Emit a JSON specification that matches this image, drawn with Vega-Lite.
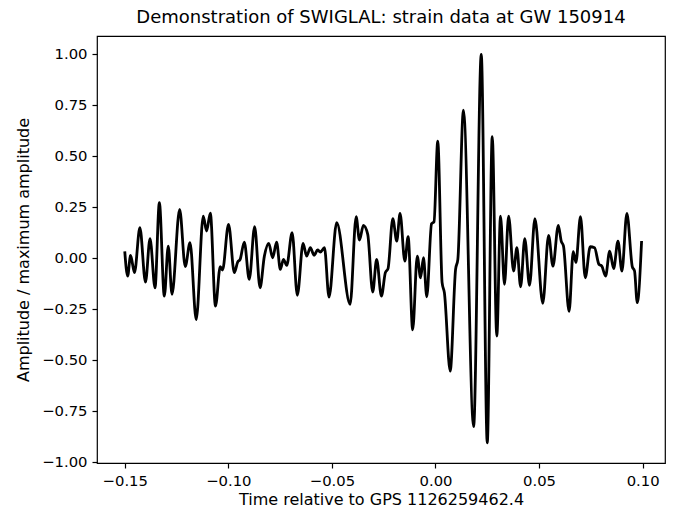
{
  "$schema": "https://vega.github.io/schema/vega-lite/v6.json",
  "width": 568,
  "height": 427,
  "autosize": {"type": "none"},
  "padding": {"left": 97, "top": 36, "right": 9, "bottom": 48},
  "background": "white",
  "title": {
    "text": "Demonstration of SWIGLAL: strain data at GW 150914",
    "font": "DejaVu Sans",
    "fontSize": 18,
    "fontWeight": "normal",
    "color": "black",
    "anchor": "middle",
    "frame": "group",
    "offset": 9
  },
  "config": {
    "view": {"stroke": "black", "strokeWidth": 1.2},
    "axis": {
      "grid": false,
      "domain": false,
      "tickColor": "black",
      "tickSize": 5,
      "tickWidth": 1.2,
      "labelFont": "DejaVu Sans",
      "labelFontSize": 14.8,
      "labelColor": "black",
      "labelPadding": 5,
      "titleFont": "DejaVu Sans",
      "titleFontSize": 16,
      "titleFontWeight": "normal",
      "titleColor": "black"
    }
  },
  "data": {
    "values": [
      {"t": -0.1500, "a": 0.034},
      {"t": -0.1486, "a": -0.087},
      {"t": -0.1472, "a": 0.015},
      {"t": -0.1453, "a": -0.070},
      {"t": -0.1427, "a": 0.150},
      {"t": -0.1400, "a": -0.116},
      {"t": -0.1378, "a": 0.097},
      {"t": -0.1354, "a": -0.144},
      {"t": -0.1333, "a": 0.273},
      {"t": -0.1309, "a": -0.185},
      {"t": -0.1290, "a": 0.060},
      {"t": -0.1272, "a": -0.176},
      {"t": -0.1235, "a": 0.240},
      {"t": -0.1208, "a": -0.040},
      {"t": -0.1185, "a": 0.077},
      {"t": -0.1155, "a": -0.300},
      {"t": -0.1121, "a": 0.207},
      {"t": -0.1105, "a": 0.134},
      {"t": -0.1087, "a": 0.222},
      {"t": -0.1062, "a": -0.234},
      {"t": -0.1039, "a": -0.040},
      {"t": -0.1028, "a": -0.057},
      {"t": -0.0999, "a": 0.167},
      {"t": -0.0971, "a": -0.070},
      {"t": -0.0955, "a": -0.018},
      {"t": -0.0943, "a": -0.005},
      {"t": -0.0923, "a": 0.080},
      {"t": -0.0899, "a": -0.103},
      {"t": -0.0873, "a": 0.155},
      {"t": -0.0847, "a": -0.144},
      {"t": -0.0826, "a": 0.011},
      {"t": -0.0805, "a": 0.074},
      {"t": -0.0786, "a": 0.003},
      {"t": -0.0767, "a": 0.080},
      {"t": -0.0749, "a": -0.054},
      {"t": -0.0734, "a": -0.005},
      {"t": -0.0718, "a": -0.034},
      {"t": -0.0692, "a": 0.126},
      {"t": -0.0667, "a": -0.181},
      {"t": -0.0639, "a": 0.074},
      {"t": -0.0622, "a": 0.011},
      {"t": -0.0604, "a": 0.052},
      {"t": -0.0586, "a": 0.015},
      {"t": -0.0569, "a": 0.041},
      {"t": -0.0556, "a": 0.031},
      {"t": -0.0536, "a": 0.052},
      {"t": -0.0514, "a": -0.190},
      {"t": -0.0477, "a": 0.175},
      {"t": -0.0412, "a": -0.225},
      {"t": -0.0383, "a": 0.204},
      {"t": -0.0367, "a": 0.090},
      {"t": -0.0348, "a": 0.162},
      {"t": -0.0327, "a": 0.118},
      {"t": -0.0303, "a": -0.165},
      {"t": -0.0284, "a": -0.005},
      {"t": -0.0261, "a": -0.185},
      {"t": -0.0242, "a": -0.070},
      {"t": -0.0229, "a": -0.050},
      {"t": -0.0206, "a": 0.195},
      {"t": -0.0187, "a": 0.085},
      {"t": -0.0171, "a": 0.220},
      {"t": -0.0148, "a": -0.013},
      {"t": -0.0132, "a": 0.106},
      {"t": -0.0110, "a": -0.350},
      {"t": -0.0088, "a": 0.011},
      {"t": -0.0072, "a": -0.095},
      {"t": -0.0058, "a": 0.003},
      {"t": -0.0042, "a": -0.188},
      {"t": -0.0019, "a": 0.170},
      {"t": -0.0007, "a": 0.180},
      {"t": 0.0011, "a": 0.575},
      {"t": 0.0032, "a": -0.119},
      {"t": 0.0043, "a": -0.168},
      {"t": 0.0071, "a": -0.552},
      {"t": 0.0097, "a": -0.054},
      {"t": 0.0108, "a": -0.005},
      {"t": 0.0135, "a": 0.727},
      {"t": 0.0184, "a": -0.825},
      {"t": 0.0221, "a": 1.000},
      {"t": 0.0250, "a": -0.904},
      {"t": 0.0274, "a": 0.597},
      {"t": 0.0296, "a": -0.381},
      {"t": 0.0314, "a": 0.207},
      {"t": 0.0333, "a": -0.127},
      {"t": 0.0353, "a": 0.207},
      {"t": 0.0377, "a": -0.062},
      {"t": 0.0393, "a": 0.052},
      {"t": 0.0411, "a": -0.139},
      {"t": 0.0431, "a": 0.097},
      {"t": 0.0454, "a": -0.132},
      {"t": 0.0480, "a": 0.195},
      {"t": 0.0518, "a": -0.220},
      {"t": 0.0546, "a": 0.113},
      {"t": 0.0567, "a": -0.038},
      {"t": 0.0593, "a": 0.162},
      {"t": 0.0607, "a": 0.085},
      {"t": 0.0618, "a": 0.060},
      {"t": 0.0645, "a": -0.260},
      {"t": 0.0665, "a": 0.033},
      {"t": 0.0678, "a": -0.020},
      {"t": 0.0700, "a": 0.204},
      {"t": 0.0723, "a": -0.095},
      {"t": 0.0747, "a": 0.057},
      {"t": 0.0768, "a": 0.052},
      {"t": 0.0789, "a": -0.029},
      {"t": 0.0803, "a": -0.038},
      {"t": 0.0821, "a": -0.087},
      {"t": 0.0841, "a": 0.036},
      {"t": 0.0860, "a": -0.050},
      {"t": 0.0881, "a": 0.085},
      {"t": 0.0900, "a": -0.062},
      {"t": 0.0924, "a": 0.220},
      {"t": 0.0950, "a": -0.040},
      {"t": 0.0961, "a": -0.062},
      {"t": 0.0974, "a": -0.217},
      {"t": 0.0995, "a": 0.085}
    ]
  },
  "mark": {"type": "line", "color": "black", "strokeWidth": 2.8, "interpolate": "monotone", "clip": true},
  "encoding": {
    "x": {
      "field": "t",
      "type": "quantitative",
      "scale": {"domain": [-0.1634, 0.1108], "nice": false, "zero": false},
      "axis": {
        "values": [-0.15, -0.1, -0.05, 0, 0.05, 0.1],
        "format": ".2f",
        "title": "Time relative to GPS 1126259462.4",
        "titlePadding": 4
      }
    },
    "y": {
      "field": "a",
      "type": "quantitative",
      "scale": {"domain": [-1.003, 1.09], "nice": false, "zero": false},
      "axis": {
        "values": [-1, -0.75, -0.5, -0.25, 0, 0.25, 0.5, 0.75, 1],
        "format": ".2f",
        "title": "Amplitude / maximum amplitude",
        "titlePadding": 10
      }
    }
  }
}
